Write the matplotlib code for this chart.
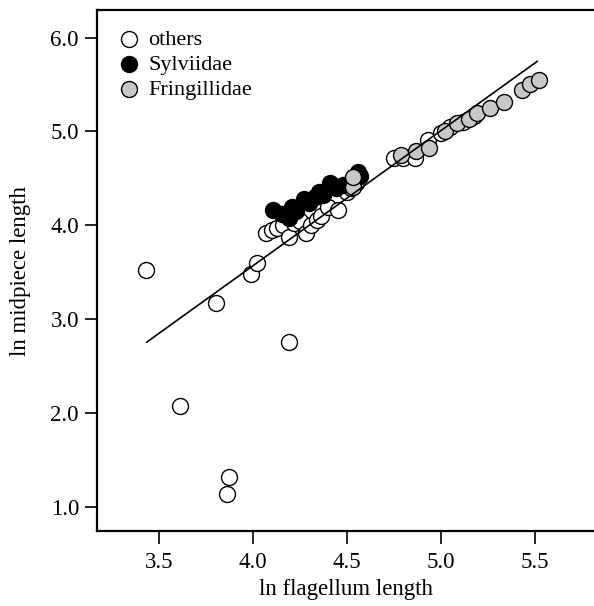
import matplotlib
matplotlib.use('Agg')
import numpy as np
from matplotlib import pyplot as plt

plt.rcParams['font.family'] = ['Liberation Serif', 'DejaVu Serif']

# others (open circles)
oth_x = [3.43, 3.61, 3.80, 3.86, 3.87, 3.99, 4.02, 4.19,
         4.07, 4.10, 4.13, 4.16, 4.19, 4.22, 4.25, 4.28, 4.31, 4.34, 4.36,
         4.40, 4.45, 4.50, 4.52, 4.55,
         4.75, 4.80, 4.865, 4.93, 5.00, 5.05, 5.12, 5.18]
oth_y = [3.52, 2.07, 3.17, 1.14, 1.32, 3.48, 3.60, 2.76,
         3.92, 3.95, 3.97, 4.00, 3.87, 4.02, 4.05, 3.92, 4.00, 4.06, 4.10,
         4.20, 4.16, 4.35, 4.40, 4.45,
         4.72, 4.72, 4.72, 4.91, 4.98, 5.05, 5.10, 5.16]

# Sylviidae (black)
syl_x = [4.107, 4.155, 4.19, 4.21, 4.23, 4.27, 4.30, 4.33, 4.35, 4.37, 4.41, 4.44, 4.48, 4.56, 4.57]
syl_y = [4.16, 4.12, 4.08, 4.20, 4.15, 4.28, 4.24, 4.30, 4.36, 4.32, 4.45, 4.40, 4.43, 4.57, 4.53]

# Fringillidae (grey)
fri_x = [4.53, 4.53, 4.79, 4.87, 4.935, 5.025, 5.087, 5.149, 5.194, 5.265, 5.336, 5.434, 5.478, 5.522]
fri_y = [4.41, 4.52, 4.75, 4.79, 4.82, 5.00, 5.09, 5.13, 5.20, 5.25, 5.31, 5.445, 5.505, 5.544]

# regression line end points
line_x = [3.433, 5.514]
line_y = [2.754, 5.747]

fig = plt.figure(figsize=(5.94, 6.06), dpi=100)
ax = fig.add_axes([0.1633, 0.1243, 0.8367, 0.8584])

ms = 132
ax.scatter(oth_x, oth_y, s=ms, facecolor='white', edgecolor='black', linewidth=1.0, zorder=2, label='others')
ax.scatter(syl_x, syl_y, s=ms, facecolor='black', edgecolor='black', linewidth=1.0, zorder=3, label='Sylviidae')
ax.scatter(fri_x, fri_y, s=ms, facecolor='#c8c8c8', edgecolor='black', linewidth=1.0, zorder=4, label='Fringillidae')
ax.plot(line_x, line_y, color='black', linewidth=1.2, zorder=5)

ax.set_xlim(3.168, 5.817)
ax.set_ylim(0.744, 6.29)
ax.set_xticks([3.5, 4.0, 4.5, 5.0, 5.5])
ax.set_yticks([1.0, 2.0, 3.0, 4.0, 5.0, 6.0])
ax.set_xticklabels(['3.5', '4.0', '4.5', '5.0', '5.5'])
ax.set_yticklabels(['1.0', '2.0', '3.0', '4.0', '5.0', '6.0'])
ax.tick_params(direction='out', length=9, width=1.2, labelsize=16.5)
ax.tick_params(axis='x', pad=6)
ax.tick_params(axis='y', pad=4)

ax.spines['right'].set_visible(False)
for s in ['left', 'top', 'bottom']:
    ax.spines[s].set_linewidth(1.6)

ax.set_xlabel('ln flagellum length', fontsize=16.5, labelpad=5)
ax.set_ylabel('ln midpiece length', fontsize=16.5, labelpad=14)

ax.legend(loc='upper left', frameon=False, fontsize=16, handletextpad=0.25,
          labelspacing=0.2, borderaxespad=0.45, handlelength=1.2, scatterpoints=1)

plt.savefig('out.png', dpi=100)
